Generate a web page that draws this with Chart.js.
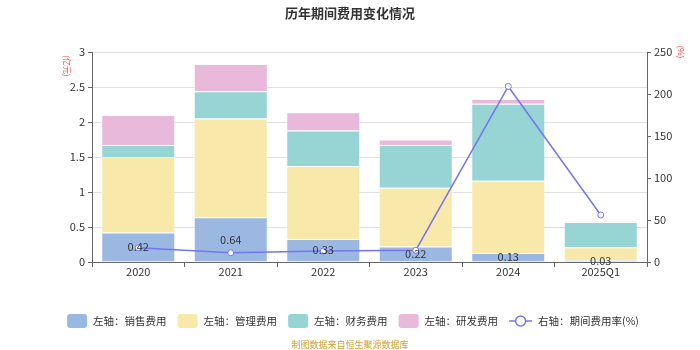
<!DOCTYPE html>
<html lang="zh">
<head>
  <meta charset="UTF-8">
  <title>历年期间费用变化情况</title>
  <script src="https://cdn.jsdelivr.net/npm/chart.js@4.4.3/dist/chart.umd.min.js"></script>
  <style>
    html, body { margin: 0; padding: 0; background: #fff; }
    #wrap { width: 700px; height: 350px; position: relative; }
  </style>
</head>
<body>
  <div id="wrap"><canvas id="costChart" width="700" height="350"></canvas></div>
  <script>
    const years = ['2020', '2021', '2022', '2023', '2024', '2025Q1'];
    const sales = [0.42, 0.64, 0.33, 0.22, 0.13, 0.03];
    const admin = [1.08, 1.41, 1.04, 0.84, 1.03, 0.18];
    const finance = [0.17, 0.39, 0.51, 0.61, 1.10, 0.36];
    const rnd = [0.43, 0.39, 0.26, 0.08, 0.07, 0.01];
    const rate = [17, 11, 13, 14, 209, 56];

    const FONT = '"Microsoft YaHei", "Noto Sans CJK SC", sans-serif';
    const colors = {
      sales: '#9bb8e2',
      admin: '#f8e8a9',
      finance: '#97d4d4',
      rnd: '#e8b9da',
      line: '#7575f2'
    };
    const legendItems = [
      { text: '左轴：销售费用', color: colors.sales },
      { text: '左轴：管理费用', color: colors.admin },
      { text: '左轴：财务费用', color: colors.finance },
      { text: '左轴：研发费用', color: colors.rnd },
      { text: '右轴：期间费用率(%)', color: colors.line, line: true }
    ];

    // title, axis names, legend, footer, labels
    const decor = {
      id: 'decor',
      afterDatasetsDraw(chart) {
        const ctx = chart.ctx;
        ctx.save();
        // sales labels centered in the bottom segment
        const meta = chart.getDatasetMeta(1);
        ctx.font = '11px ' + FONT;
        ctx.fillStyle = '#333';
        ctx.textAlign = 'center';
        ctx.textBaseline = 'middle';
        meta.data.forEach((bar, i) => {
          ctx.fillText(sales[i].toFixed(2), bar.x, (bar.y + bar.base) / 2);
        });
        ctx.restore();
      },
      afterDraw(chart) {
        const ctx = chart.ctx;
        ctx.save();
        ctx.fillStyle = '#333';
        ctx.font = 'bold 13px ' + FONT;
        ctx.textAlign = 'center';
        ctx.textBaseline = 'middle';
        ctx.fillText('历年期间费用变化情况', 350, 13);

        // axis names, rotated
        ctx.fillStyle = '#f23c3c';
        ctx.font = '8px ' + FONT;
        ctx.save();
        ctx.translate(67, 66);
        ctx.rotate(Math.PI / 2);
        ctx.fillText('(亿元)', 0, 0);
        ctx.restore();
        ctx.save();
        ctx.translate(681, 52);
        ctx.rotate(Math.PI / 2);
        ctx.fillText('(%)', 0, 0);
        ctx.restore();

        // legend
        ctx.font = '10.5px ' + FONT;
        ctx.textAlign = 'left';
        const boxW = 20, gap = 6, itemGap = 11;
        const widths = legendItems.map(it => (it.line ? 23 : boxW) + gap + ctx.measureText(it.text).width);
        const total = widths.reduce((a, b) => a + b, 0) + itemGap * (legendItems.length - 1);
        let x = 353 - total / 2;
        const ly = 321;
        legendItems.forEach((it, i) => {
          if (it.line) {
            ctx.strokeStyle = it.color;
            ctx.lineWidth = 1.5;
            ctx.beginPath();
            ctx.moveTo(x, ly);
            ctx.lineTo(x + 23, ly);
            ctx.stroke();
            ctx.beginPath();
            ctx.arc(x + 11.5, ly, 5, 0, Math.PI * 2);
            ctx.fillStyle = '#fff';
            ctx.fill();
            ctx.stroke();
            ctx.fillStyle = '#333';
            ctx.fillText(it.text, x + 23 + gap, ly);
          } else {
            ctx.fillStyle = it.color;
            ctx.beginPath();
            ctx.roundRect(x, ly - 7, boxW, 14, 3);
            ctx.fill();
            ctx.fillStyle = '#333';
            ctx.fillText(it.text, x + boxW + gap, ly);
          }
          x += widths[i] + itemGap;
        });

        // footer
        ctx.fillStyle = '#c9a033';
        ctx.font = '9px ' + FONT;
        ctx.textAlign = 'center';
        ctx.fillText('制图数据来自恒生聚源数据库', 350, 345);
        ctx.restore();
      }
    };

    const barSet = (label, data, color) => ({
      type: 'bar',
      label: label,
      data: data,
      backgroundColor: color,
      borderColor: 'rgba(255,255,255,0.35)',
      borderWidth: 1,
      categoryPercentage: 0.8,
      barPercentage: 1,
      stack: 's',
      yAxisID: 'y',
      order: 1
    });

    new Chart(document.getElementById('costChart'), {
      data: {
        labels: years,
        datasets: [
          {
            type: 'line',
            label: '右轴：期间费用率(%)',
            data: rate,
            yAxisID: 'y1',
            borderColor: colors.line,
            borderWidth: 1.5,
            pointRadius: 3,
            pointBackgroundColor: '#fff',
            pointBorderColor: colors.line,
            pointBorderWidth: 1,
            tension: 0,
            order: 0
          },
          barSet('左轴：销售费用', sales, colors.sales),
          barSet('左轴：管理费用', admin, colors.admin),
          barSet('左轴：财务费用', finance, colors.finance),
          barSet('左轴：研发费用', rnd, colors.rnd)
        ]
      },
      options: {
        responsive: false,
        animation: false,
        layout: { padding: { top: 52, left: 0, right: 0, bottom: 0 } },
        plugins: {
          legend: { display: false },
          tooltip: { enabled: false }
        },
        scales: {
          x: {
            stacked: true,
            offset: true,
            afterFit: s => { s.height = 88; },
            grid: { offset: true, drawOnChartArea: false, drawTicks: true, tickLength: 5, color: '#666' },
            border: { color: '#666', width: 1 },
            ticks: { color: '#333', font: { size: 11, family: FONT }, padding: -2 }
          },
          y: {
            stacked: true,
            position: 'left',
            min: 0,
            max: 3,
            afterFit: s => { s.width = 92; },
            ticks: { stepSize: 0.5, color: '#333', font: { size: 11, family: FONT }, padding: 3, callback: v => String(v) },
            grid: { color: '#e0e0e0', lineWidth: 1, tickLength: 4, tickColor: '#666' },
            border: { color: '#666', width: 1 }
          },
          y1: {
            position: 'right',
            min: 0,
            max: 250,
            afterFit: s => { s.width = 53; },
            ticks: { stepSize: 50, color: '#333', font: { size: 11, family: FONT }, padding: 3 },
            grid: { drawOnChartArea: false, tickLength: 4, color: '#666' },
            border: { color: '#666', width: 1 }
          }
        }
      },
      plugins: [decor]
    });
  </script>
</body>
</html>
